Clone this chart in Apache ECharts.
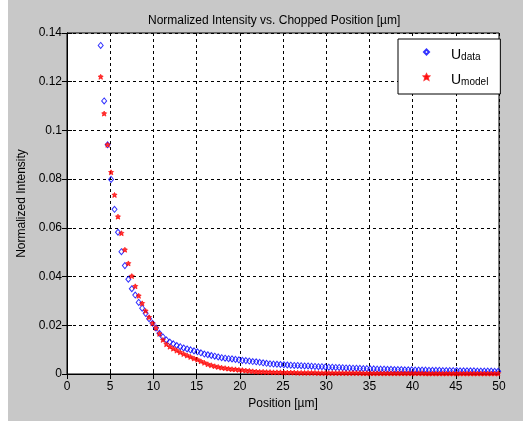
<!DOCTYPE html>
<html><head><meta charset="utf-8">
<script src="https://cdn.jsdelivr.net/npm/echarts@6/dist/echarts.min.js"></script>
<style>
html,body{margin:0;padding:0;background:#c8c8c8;width:523px;height:421px;overflow:hidden;}
#strip{position:absolute;left:0;top:0;width:8px;height:421px;background:#fff;}
#chart{position:absolute;left:0;top:0;width:523px;height:421px;}
</style>
</head><body><div id="strip"></div><div id="chart"></div>
<script>
const positions = [3.9,4.3,4.7,5.1,5.5,5.9,6.3,6.7,7.1,7.5,7.9,8.3,8.7,9.1,9.5,9.9,10.3,10.7,11.1,11.5,11.9,12.3,12.7,13.1,13.5,13.9,14.3,14.7,15.1,15.5,15.9,16.3,16.7,17.1,17.5,17.9,18.3,18.7,19.1,19.5,19.9,20.3,20.7,21.1,21.5,21.9,22.3,22.7,23.1,23.5,23.9,24.3,24.7,25.1,25.5,25.9,26.3,26.7,27.1,27.5,27.9,28.3,28.7,29.1,29.5,29.9,30.3,30.7,31.1,31.5,31.9,32.3,32.7,33.1,33.5,33.9,34.3,34.7,35.1,35.5,35.9,36.3,36.7,37.1,37.5,37.9,38.3,38.7,39.1,39.5,39.9,40.3,40.7,41.1,41.5,41.9,42.3,42.7,43.1,43.5,43.9,44.3,44.7,45.1,45.5,45.9,46.3,46.7,47.1,47.5,47.9,48.3,48.7,49.1,49.5,49.9];
const uData = [
0.1349,0.1121,0.0941,0.0799,0.0676,0.0582,0.0502,0.0445,0.0389,0.0350,
0.0324,0.0294,0.0270,0.0249,0.0227,0.0208,0.0189,0.0167,0.0152,0.0140,
0.0131,0.0124,0.0117,0.0112,0.0107,0.0103,0.0099,0.0095,0.0091,0.0087,
0.0082,0.0079,0.0076,0.0073,0.0070,0.0067,0.0065,0.0063,0.0062,0.0060,
0.0058,0.0056,0.0055,0.0053,0.0051,0.0050,0.0048,0.0046,0.0044,0.0042,
0.0041,0.0040,0.0039,0.0038,0.0037,0.0036,0.0035,0.0035,0.0034,0.0033,
0.0033,0.0032,0.0031,0.0030,0.0030,0.0029,0.0028,0.0028,0.0027,0.0027,
0.0026,0.0025,0.0025,0.0024,0.0024,0.0023,0.0022,0.0022,0.0021,0.0021,
0.0020,0.0020,0.0020,0.0019,0.0019,0.0018,0.0018,0.0018,0.0017,0.0017,
0.0017,0.0016,0.0016,0.0016,0.0016,0.0015,0.0015,0.0015,0.0015,0.0014,
0.0014,0.0014,0.0014,0.0014,0.0013,0.0013,0.0013,0.0013,0.0013,0.0012,
0.0012,0.0012,0.0012,0.0012,0.0011,0.0011];
const uModel = [
0.1220,0.1069,0.0941,0.0828,0.0735,0.0646,0.0578,0.0510,0.0454,0.0402,
0.0360,0.0321,0.0290,0.0259,0.0233,0.0208,0.0189,0.0165,0.0140,0.0122,
0.0112,0.0104,0.0096,0.0089,0.0082,0.0076,0.0070,0.0064,0.0059,0.0052,
0.0046,0.0040,0.0036,0.0032,0.0029,0.0026,0.0024,0.0022,0.0020,0.0019,
0.0017,0.0016,0.0014,0.0013,0.0011,0.0010,0.0009,0.0009,0.0008,0.0008,
0.0007,0.0007,0.0007,0.0006,0.0006,0.0006,0.0006,0.0005,0.0005,0.0005,
0.0005,0.0005,0.0005,0.0004,0.0004,0.0004,0.0004,0.0004,0.0004,0.0004,
0.0004,0.0004,0.0004,0.0004,0.0004,0.0004,0.0003,0.0003,0.0003,0.0003,
0.0003,0.0003,0.0003,0.0003,0.0003,0.0003,0.0003,0.0003,0.0003,0.0003,
0.0003,0.0003,0.0003,0.0003,0.0002,0.0002,0.0002,0.0002,0.0002,0.0002,
0.0002,0.0002,0.0002,0.0002,0.0002,0.0002,0.0002,0.0002,0.0002,0.0002,
0.0002,0.0002,0.0002,0.0002,0.0002,0.0002];
const xTicks = [0,5,10,15,20,25,30,35,40,45,50];
const yTicks = [0,0.02,0.04,0.06,0.08,0.1,0.12,0.14];
const seriesNames = ['U_data','U_model'];
const titleText = 'Normalized Intensity vs. Chopped Position [µm]';
const xLabel = 'Position [µm]';
const yLabel = 'Normalized Intensity';

const font = '"Liberation Sans", Arial, sans-serif';
const chart = echarts.init(document.getElementById('chart'), null, {renderer:'canvas'});
const tickStyle = {color:'#000', fontFamily:font, fontSize:12};
const gridLine = {show:true, lineStyle:{color:'#000', type:[3,3], width:1}};
const xBase = {type:'value', min:xTicks[0], max:xTicks[xTicks.length-1], interval:xTicks[1]-xTicks[0]};
const yBase = {type:'value', min:yTicks[0], max:yTicks[yTicks.length-1], interval:0.02};
const starPath = 'path://M5,0 L6.5,3 L10,3.5 L7.5,6 L8.5,10 L5,8 L1.5,10 L2.5,6 L0,3.5 L3.5,3 Z';

chart.setOption({
  animation:false,
  backgroundColor:'transparent',
  title:{text:titleText, left:143, top:10, textStyle:{color:'#000', fontFamily:font, fontSize:12, fontWeight:'normal'}},
  grid:{left:67, top:33, right:24, bottom:47, show:true, backgroundColor:'#fff', borderColor:'#000', borderWidth:1},
  legend:{
    left:398, top:39, orient:'vertical',
    backgroundColor:'#fff', borderColor:'#000', borderWidth:1,
    padding:[7,12,7,25], itemGap:9, itemWidth:5, itemHeight:5,
    data:seriesNames,
    formatter:function(n){ const p=n.split('_'); return '{u|'+p[0]+'}{s|'+p[1]+'}'; },
    textStyle:{color:'#000', fontFamily:font, rich:{
      u:{fontSize:14, fontFamily:font, color:'#000', verticalAlign:'bottom', lineHeight:20, padding:[0,0,0,17]},
      s:{fontSize:10, fontFamily:font, color:'#000', verticalAlign:'bottom', padding:[6,0,0,0], lineHeight:20}
    }}
  },
  xAxis:[
    Object.assign({}, xBase, {position:'bottom',
      axisLine:{show:true, lineStyle:{color:'#000'}},
      axisTick:{show:true, inside:true, length:5, lineStyle:{color:'#000'}},
      axisLabel:{show:true, margin:7, ...tickStyle},
      splitLine:gridLine,
      name:xLabel, nameLocation:'middle', nameGap:23,
      nameTextStyle:{color:'#000', fontFamily:font, fontSize:12}}),
    Object.assign({}, xBase, {position:'top',
      axisLine:{show:true, lineStyle:{color:'#000'}},
      axisTick:{show:true, inside:true, length:5, lineStyle:{color:'#000'}},
      axisLabel:{show:false}, splitLine:{show:false}})
  ],
  yAxis:[
    Object.assign({}, yBase, {position:'left',
      axisLine:{show:true, lineStyle:{color:'#000'}},
      axisTick:{show:true, inside:true, length:5, lineStyle:{color:'#000'}},
      axisLabel:{show:true, margin:5, ...tickStyle},
      splitLine:gridLine,
      name:yLabel, nameLocation:'middle', nameGap:38,
      nameTextStyle:{color:'#000', fontFamily:font, fontSize:12}}),
    Object.assign({}, yBase, {position:'right',
      axisLine:{show:true, lineStyle:{color:'#000'}},
      axisTick:{show:true, inside:true, length:5, lineStyle:{color:'#000'}},
      axisLabel:{show:false}, splitLine:{show:false}})
  ],
  series:[
    {name:seriesNames[0], type:'scatter', xAxisIndex:0, yAxisIndex:0,
     data:positions.map((x,i)=>[x,uData[i]]),
     symbol:'diamond', symbolSize:[5,6],
     itemStyle:{color:'rgba(0,0,255,0)', borderColor:'#0000ff', borderWidth:1}},
    {name:seriesNames[1], type:'scatter', xAxisIndex:0, yAxisIndex:0,
     data:positions.map((x,i)=>[x,uModel[i]]),
     symbol:starPath, symbolSize:5,
     itemStyle:{color:'#ff0000', borderColor:'#ff0000', borderWidth:0.8}}
  ]
});
</script></body></html>
